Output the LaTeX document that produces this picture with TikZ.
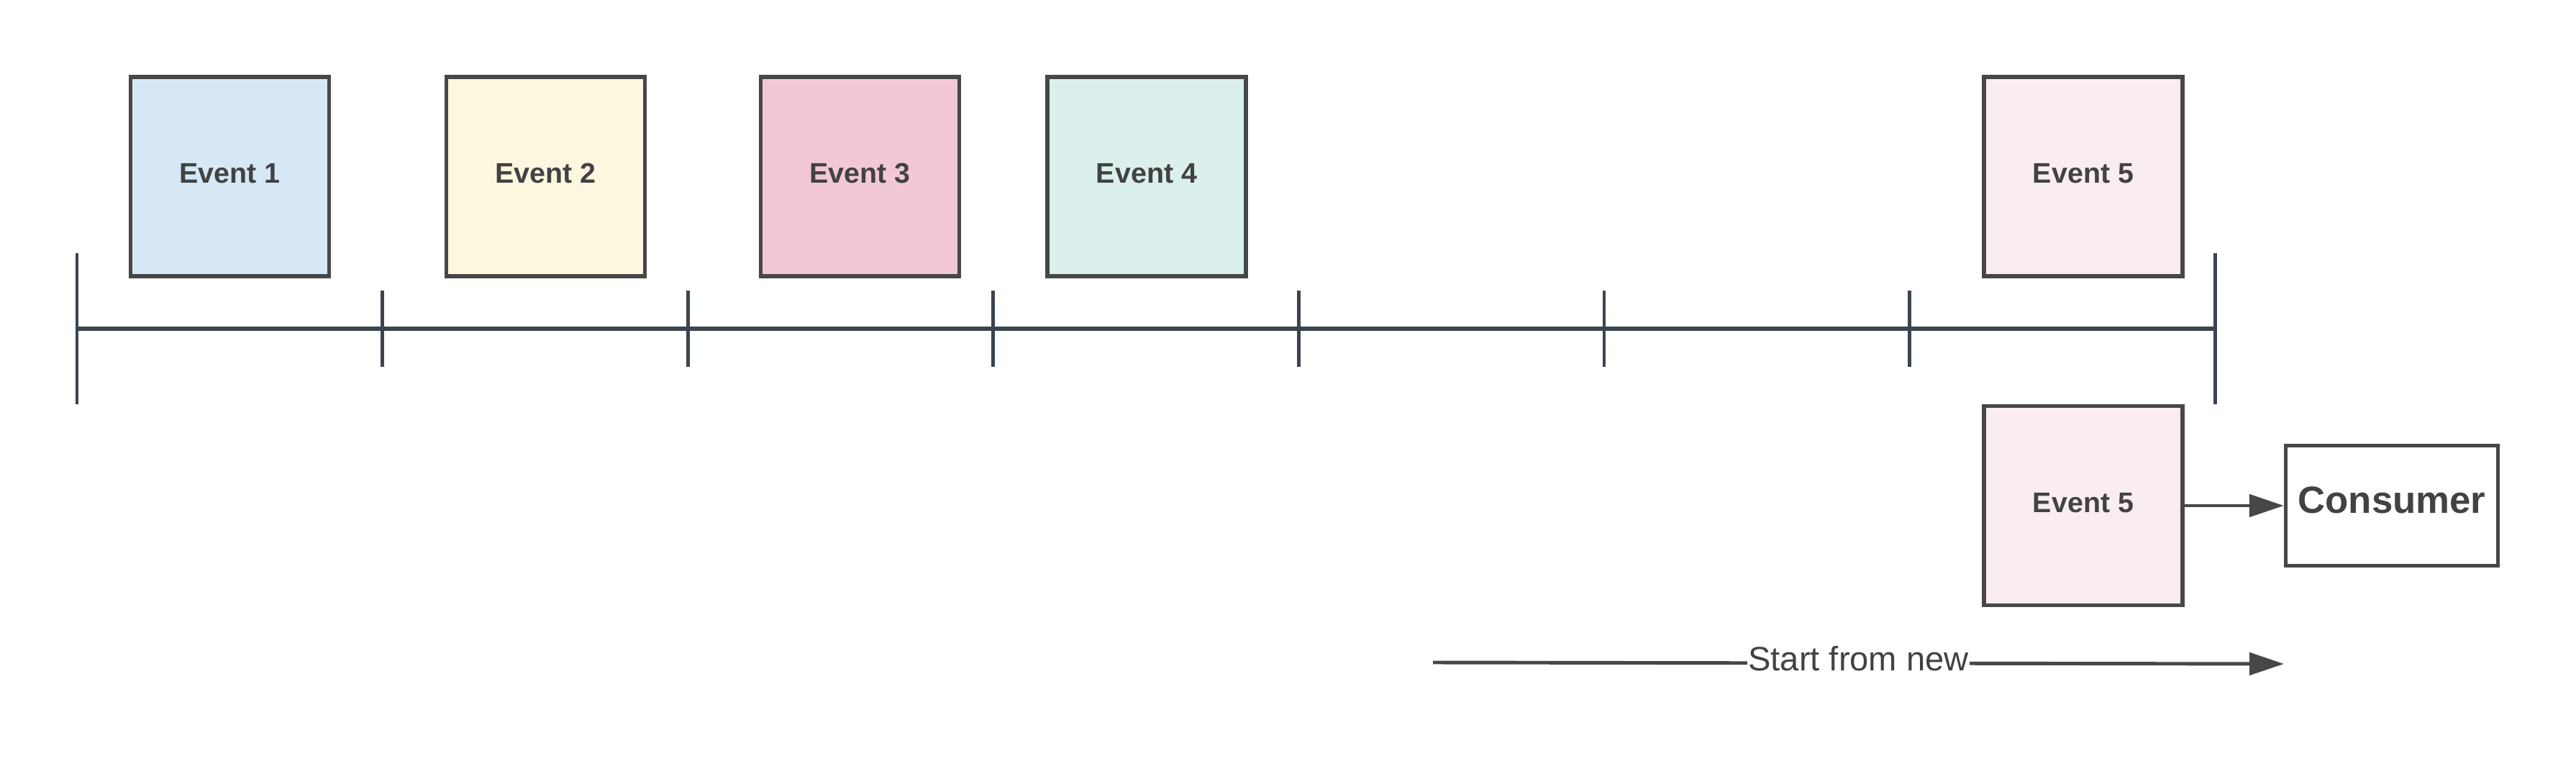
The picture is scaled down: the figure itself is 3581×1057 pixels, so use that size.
\documentclass[tikz,border=0pt]{standalone}
\usepackage{fontspec}
\setmainfont{Liberation Sans}
\usetikzlibrary{arrows.meta,positioning}
\definecolor{boxline}{RGB}{71,71,71}
\definecolor{axisline}{RGB}{58,69,80}
\definecolor{textgray}{RGB}{66,66,66}
\definecolor{evblue}{RGB}{214,232,245}
\definecolor{evyellow}{RGB}{254,247,224}
\definecolor{evred}{RGB}{243,200,213}
\definecolor{evgreen}{RGB}{219,240,237}
\definecolor{evpink}{RGB}{250,237,241}

\begin{document}
\begin{tikzpicture}[x=0.01cm, y=-0.01cm]
\tikzstyle{event} = [rectangle, minimum width=2.76cm, minimum height=2.77cm, text depth=0.09cm, draw=boxline, line width=1.5pt, text=textgray, font=\fontsize{11.2}{13}\selectfont\bfseries]
\tikzstyle{consumer} = [rectangle, minimum width=2.95cm, minimum height=1.67cm, text depth=0.16cm, draw=boxline, line width=1.5pt, fill=white, text=textgray, font=\fontsize{15}{18}\selectfont\bfseries]
\tikzstyle{axis} = [draw=axisline, line width=1.6pt]
\tikzstyle{tick} = [draw=axisline, line width=1.4pt]
\tikzstyle{arrow} = [draw=boxline, line width=1.4pt, -{Triangle[length=0.48cm, width=0.31cm]}]

\useasboundingbox (0,0) rectangle (3581,1057);

% events on the log
\node (ev1) [event, fill=evblue] at (319.5,245.5) {Event 1};
\node (ev2) [event, fill=evyellow] at (758.5,245.5) {Event 2};
\node (ev3) [event, fill=evred] at (1195.5,245.5) {Event 3};
\node (ev4) [event, fill=evgreen] at (1594,245.5) {Event 4};
\node (ev5) [event, fill=evpink] at (2896,245.5) {Event 5};

% timeline
\foreach \i in {0,...,7}
  \coordinate (t\i) at ({107+\i*424.6},457);
\draw [axis] (t0) -- (t7);
\foreach \i in {1,...,6}
  \draw [tick] ([yshift=-0.53cm]t\i) -- ([yshift=0.53cm]t\i);
\draw [tick] ([yshift=-1.05cm]t0) -- ([yshift=1.05cm]t0);
\draw [tick] ([yshift=-1.05cm]t7) -- ([yshift=1.05cm]t7);

% read from the newest event
\node (ev5b) [event, fill=evpink] at (2896,703) {Event 5};
\node (consumer) [consumer, right=1.38cm of ev5b] {Consumer};
\draw [arrow] (ev5b) -- (consumer);

\coordinate (newstart) at (1992,921);
\coordinate (newend) at (3175,923);
\draw [arrow] (newstart) -- node (newlabel) [fill=white, inner sep=0.5pt, yshift=0.06cm, text=textgray, font=\fontsize{13.4}{16}\selectfont] {Start from new} (newend);
\end{tikzpicture}
\end{document}
